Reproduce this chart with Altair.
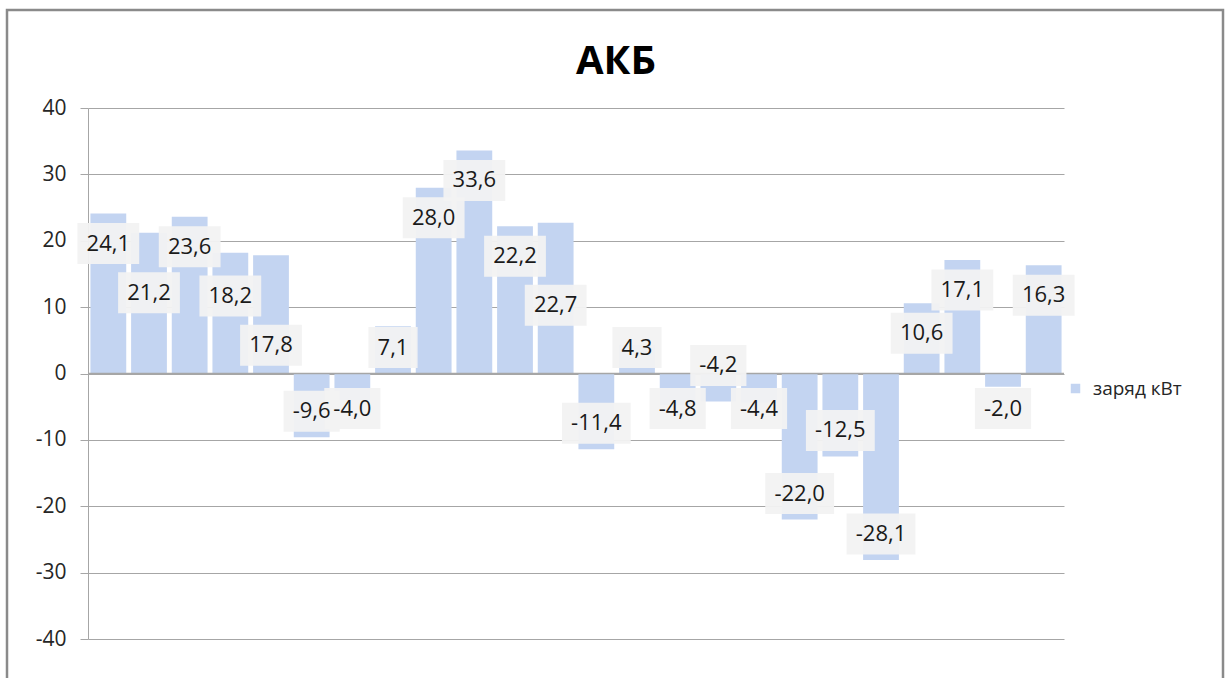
import altair as alt
import pandas as pd

# Battery charge per interval, kW
values = [24.1, 21.2, 23.6, 18.2, 17.8, -9.6, -4.0, 7.1, 28.0, 33.6, 22.2, 22.7,
          -11.4, 4.3, -4.8, -4.2, -4.4, -22.0, -12.5, -28.1, 10.6, 17.1, -2.0, 16.3]
series_name = "заряд кВт"
chart_title = "АКБ"
y_ticks = [-40, -30, -20, -10, 0, 10, 20, 30, 40]

W, H = 976, 531
Y_MIN, Y_MAX = -40, 40
PX_PER_UNIT = H / (Y_MAX - Y_MIN)
FONT = "Open Sans"
BAR_COLOR = "#c3d4f1"
GRID = "#a6a6a6"

n = len(values)
px_x = W / n


def fmt(v):
    return f"{v:.1f}".replace(".", ",")


# label anchor: just inside the end of the bar, short bars keep it clear of the zero line
label_pos = []
box_h = 41 / PX_PER_UNIT
for i, v in enumerate(values):
    short = abs(v) < 9
    if not short and v > 0:
        p = v - 30 / PX_PER_UNIT
    elif v > 0:
        p = 26 / PX_PER_UNIT
    elif short:
        p = -35 / PX_PER_UNIT
    else:
        p = v + 26 / PX_PER_UNIT
    # simple overlap resolution against the neighbour on the left
    if label_pos:
        prev = label_pos[-1]
        pv = values[i - 1]
        same_kind = (v > 0) == (pv > 0) and short == (abs(pv) < 9)
        if abs(p - prev) < box_h * 0.9 and same_kind:
            if v > 0:
                p = prev - box_h * 1.2
            else:
                p = prev + box_h * 1.05
    label_pos.append(p)

rows = []
for i, v in enumerate(values):
    txt = fmt(v)
    digits = sum(c.isdigit() for c in txt)
    w_px = digits * 12.6 + 6 + (7 if v < 0 else 0) + 18
    half = w_px / 2 / px_x
    c = i + 0.5
    rows.append({
        "i": i, "value": v, "label": txt, "series": series_name,
        "x0": i + 0.06, "x1": i + 0.94, "xc": c,
        "bx0": c - half, "bx1": c + half,
        "ly": label_pos[i],
        "by0": label_pos[i] - box_h / 2, "by1": label_pos[i] + box_h / 2,
    })
df = pd.DataFrame(rows)

xs = alt.Scale(domain=[0, n], nice=False, zero=False)
ys = alt.Scale(domain=[Y_MIN, Y_MAX], nice=False)

base = alt.Chart(df)

bars = base.mark_rect().encode(
    x=alt.X("x0:Q", scale=xs, axis=None),
    x2="x1:Q",
    y=alt.Y("value:Q", scale=ys,
            axis=alt.Axis(values=y_ticks, title=None, grid=True, gridColor=GRID,
                          gridWidth=1, domainColor=GRID, tickColor=GRID, tickSize=8,
                          labelFont=FONT, labelFontSize=21, labelColor="#262626",
                          labelPadding=14, labelExpr="'' + datum.value")),
    y2=alt.datum(0),
    color=alt.Color("series:N",
                    scale=alt.Scale(domain=[series_name], range=[BAR_COLOR]),
                    legend=alt.Legend(title=None, orient="none", legendX=978, legendY=271,
                                      symbolType="square", symbolSize=90,
                                      labelFont=FONT, labelFontSize=19,
                                      labelColor="#262626", padding=0, labelOffset=8)),
)

zero_line = alt.Chart(pd.DataFrame({"z": [0]})).mark_rule(color=GRID, strokeWidth=1.5).encode(
    y=alt.Y("z:Q", scale=ys)
)

boxes = base.mark_rect(color="#f2f2f2", opacity=0.95).encode(
    x=alt.X("bx0:Q", scale=xs), x2="bx1:Q",
    y=alt.Y("by0:Q", scale=ys), y2="by1:Q",
)

labels = base.mark_text(font=FONT, fontSize=22, color="#1a1a1a", baseline="middle").encode(
    x=alt.X("xc:Q", scale=xs),
    y=alt.Y("ly:Q", scale=ys),
    text="label:N",
)

title = alt.Chart(pd.DataFrame({"t": [chart_title]})).mark_text(
    font=FONT, fontSize=40, fontWeight="bold", color="#000000", baseline="middle"
).encode(x=alt.value(528), y=alt.value(-46), text="t:N")

frame = alt.Chart(pd.DataFrame({"f": [0]})).mark_rect(
    fill=None, stroke="#8a8a8a", strokeWidth=2.5, clip=False
).encode(x=alt.value(-81), x2=alt.value(1135), y=alt.value(-98), y2=alt.value(620))

chart = alt.layer(frame, bars, zero_line, boxes, labels, title).properties(
    width=W, height=H,
    autosize=alt.AutoSizeParams(type="none"),
    padding={"left": 88, "top": 108, "right": 166, "bottom": 39},
    background="white",
).configure_view(stroke=None)

chart.save("out.html", embed_options={"renderer": "svg", "actions": False})
